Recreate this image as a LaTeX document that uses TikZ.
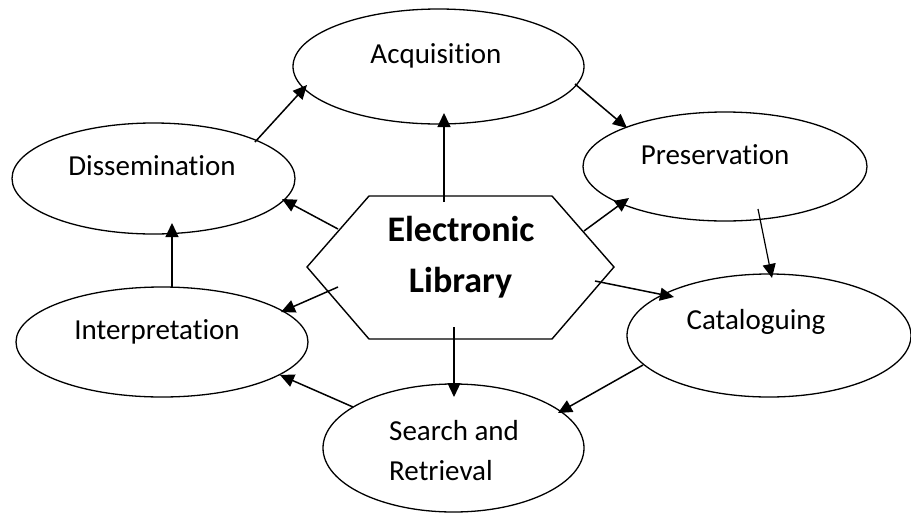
\documentclass[tikz,border=0pt]{standalone}
\usepackage{fontspec}
\setmainfont{Carlito}[Ligatures=NoCommon]
\usetikzlibrary{shapes.geometric,arrows.meta}
\begin{document}
\begin{tikzpicture}[x=1pt,y=-1pt,
  oval/.style={draw,ellipse,line width=1.3pt,inner sep=0pt,outer sep=0pt},
  lbl/.style={anchor=base,inner sep=0pt,font=\fontsize{29}{41}\selectfont},
  lblleft/.style={anchor=base west,inner sep=0pt,font=\fontsize{29}{41}\selectfont},
  title/.style={anchor=base,inner sep=0pt,font=\fontsize{36}{50}\selectfont\bfseries},
  conn/.style={line width=1.5pt,-{Triangle[length=14pt,width=13pt]}},
  thinconn/.style={line width=1.2pt,-{Triangle[length=14pt,width=13pt]}},
  hexline/.style={draw,line width=1.4pt,line join=miter},
]
\useasboundingbox (0,0) rectangle (911,512);

% ellipses
\node[oval,minimum width=291pt,minimum height=115pt] (acq) at (438.5,66.5) {};
\node[oval,minimum width=284pt,minimum height=109pt] (pres) at (725,166.5) {};
\node[oval,minimum width=283pt,minimum height=111pt] (dis) at (153.5,178.5) {};
\node[oval,minimum width=292pt,minimum height=110pt] (interp) at (162,342) {};
\node[oval,minimum width=284pt,minimum height=123pt] (cat) at (769,335.5) {};
\node[oval,minimum width=261pt,minimum height=128pt] (search) at (453.5,448) {};

% hexagon
\coordinate (hex) at (460.5,267);
\draw[hexline] (307,267) -- (369,196) -- (552,196) -- (614,267) -- (552,339) -- (369,339) -- cycle;

% labels
\node[lbl] (acq-t) at (436,63.3) {Acquisition};
\node[lbl] (pres-t) at (715,164) {Preservation};
\node[lbl] (cat-t) at (756,329) {Cataloguing};
\node[lbl] (dis-t) at (152,175) {Dissemination};
\node[lbl] (interp-t) at (157,339) {Interpretation};
\node[lblleft] (search-t1) at (389,440) {Search and};
\node[lblleft] (search-t2) at (389,480) {Retrieval};
\node[title] (hex-t1) at (461,241) {Electronic};
\node[title] (hex-t2) at (460.5,292) {Library};

% connector end points
\coordinate (hex-n) at (444,202);
\coordinate (acq-s) at (444,113);
\coordinate (acq-se) at (575,84);
\coordinate (pres-nw) at (627,128);
\coordinate (dis-ne) at (255,142);
\coordinate (acq-sw) at (307,85);
\coordinate (hex-nw) at (338,229);
\coordinate (dis-se) at (282,199);
\coordinate (interp-n) at (172,287);
\coordinate (dis-s) at (172,223);
\coordinate (hex-w) at (338,287);
\coordinate (interp-ne) at (281,312);
\coordinate (search-nw) at (353,407);
\coordinate (interp-se) at (280,375);
\coordinate (hex-s) at (454,327);
\coordinate (search-n) at (454,397);
\coordinate (cat-sw) at (643,365);
\coordinate (search-ne) at (558,413);
\coordinate (hex-e) at (595,281);
\coordinate (cat-nw) at (674,297);
\coordinate (hex-ne) at (584,231);
\coordinate (pres-sw) at (629,198);
\coordinate (pres-s) at (758,209);
\coordinate (cat-n) at (772,278);

% connectors
\draw[conn] (hex-n) -- (acq-s);
\draw[conn] (acq-se) -- (pres-nw);
\draw[conn] (dis-ne) -- (acq-sw);
\draw[conn] (hex-nw) -- (dis-se);
\draw[conn] (interp-n) -- (dis-s);
\draw[conn] (hex-w) -- (interp-ne);
\draw[conn] (search-nw) -- (interp-se);
\draw[thinconn] (hex-s) -- (search-n);
\draw[conn] (cat-sw) -- (search-ne);
\draw[conn] (hex-e) -- (cat-nw);
\draw[conn] (hex-ne) -- (pres-sw);
\draw[thinconn] (pres-s) -- (cat-n);
\end{tikzpicture}
\end{document}
